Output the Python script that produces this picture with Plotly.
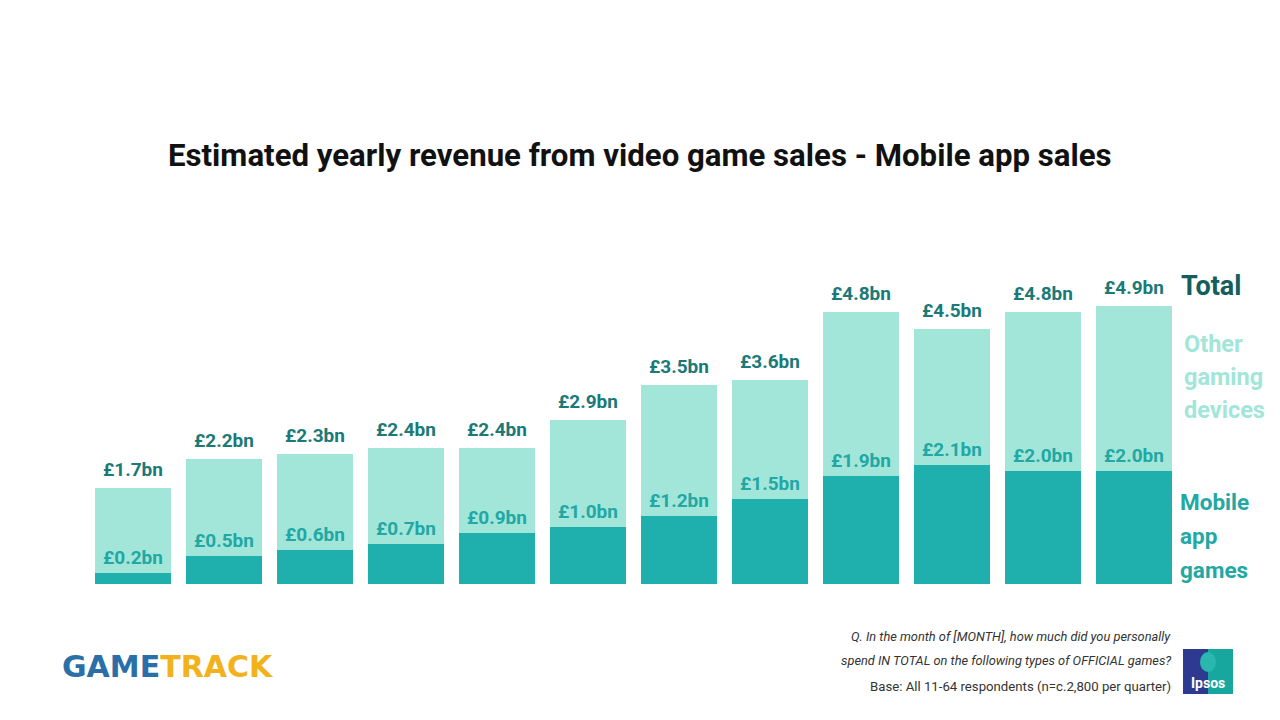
import plotly.graph_objects as go

periods = list(range(12))
mobile = [0.2, 0.5, 0.6, 0.7, 0.9, 1.0, 1.2, 1.5, 1.9, 2.1, 2.0, 2.0]
total = [1.7, 2.2, 2.3, 2.4, 2.4, 2.9, 3.5, 3.6, 4.8, 4.5, 4.8, 4.9]
other = [round(t - m, 2) for t, m in zip(total, mobile)]
mobile_labels = ["£%.1fbn" % v for v in mobile]
total_labels = ["£%.1fbn" % v for v in total]

W, H = 1280, 720
DARK = "#1FAFAD"
LIGHT = "#A1E6D9"
TOTAL_TXT = "#1A7A78"
MOB_TXT = "#22A8A4"
FONT = "Roboto"

def px(x):
    return x / W

def py(y):
    return (H - y) / H

fig = go.Figure()
fig.add_trace(go.Bar(x=periods, y=mobile, marker=dict(color=DARK, line=dict(width=0)),
                     name="Mobile app games", hoverinfo="y"))
fig.add_trace(go.Bar(x=periods, y=other, marker=dict(color=LIGHT, line=dict(width=0)),
                     name="Other gaming devices", hoverinfo="y"))

ann = []
for i in periods:
    ann.append(dict(x=i, y=total[i], xref="x", yref="y", text="<b>%s</b>" % total_labels[i],
                    showarrow=False, yanchor="bottom", yshift=5,
                    font=dict(family=FONT, size=19, color=TOTAL_TXT)))
    ann.append(dict(x=i, y=mobile[i], xref="x", yref="y", text="<b>%s</b>" % mobile_labels[i],
                    showarrow=False, yanchor="bottom", yshift=2,
                    font=dict(family=FONT, size=19, color=MOB_TXT)))

ann.append(dict(x=px(640), y=py(155), xref="paper", yref="paper",
                text="<b>Estimated yearly revenue from video game sales - Mobile app sales</b>",
                showarrow=False, xanchor="center", yanchor="middle",
                font=dict(family=FONT, size=31.2, color="#111111")))
ann.append(dict(x=px(1179), y=py(286), xref="paper", yref="paper", text="<b>Total</b>",
                showarrow=False, xanchor="left", yanchor="middle",
                font=dict(family=FONT, size=27, color="#145E5C")))
for j, w in enumerate(["Other", "gaming", "devices"]):
    ann.append(dict(x=px(1182), y=py(344 + 33 * j), xref="paper", yref="paper", text="<b>%s</b>" % w,
                    showarrow=False, xanchor="left", yanchor="middle",
                    font=dict(family=FONT, size=23.5, color=LIGHT)))
for j, w in enumerate(["Mobile", "app", "games"]):
    ann.append(dict(x=px(1178), y=py(502 + 34 * j), xref="paper", yref="paper", text="<b>%s</b>" % w,
                    showarrow=False, xanchor="left", yanchor="middle",
                    font=dict(family=FONT, size=22.5, color=MOB_TXT)))

ann.append(dict(x=px(1173), y=py(636), xref="paper", yref="paper",
                text="<i>Q. In the month of [MONTH], how much did you personally</i>",
                showarrow=False, xanchor="right", yanchor="middle",
                font=dict(family=FONT, size=12.8, color="#333333")))
ann.append(dict(x=px(1173), y=py(660), xref="paper", yref="paper",
                text="<i>spend IN TOTAL on the following types of OFFICIAL games?</i>",
                showarrow=False, xanchor="right", yanchor="middle",
                font=dict(family=FONT, size=12.8, color="#333333")))
ann.append(dict(x=px(1173), y=py(686), xref="paper", yref="paper",
                text="Base: All 11-64 respondents (n=c.2,800 per quarter)",
                showarrow=False, xanchor="right", yanchor="middle",
                font=dict(family=FONT, size=13.2, color="#333333")))

ann.append(dict(x=px(60), y=py(666), xref="paper", yref="paper",
                text="<b><span style='color:#2B6FA8'>GAME</span><span style='color:#F2B21C'>TRACK</span></b>",
                showarrow=False, xanchor="left", yanchor="middle",
                font=dict(family="DejaVu Sans", size=30)))
ann.append(dict(x=px(1208), y=py(683), xref="paper", yref="paper", text="<b>Ipsos</b>",
                showarrow=False, xanchor="center", yanchor="middle",
                font=dict(family=FONT, size=14, color="white")))

shapes = [
    dict(type="rect", xref="paper", yref="paper", x0=px(1183), x1=px(1208), y0=py(694), y1=py(649),
         fillcolor="#2E3A92", line=dict(width=0), layer="below"),
    dict(type="rect", xref="paper", yref="paper", x0=px(1208), x1=px(1233), y0=py(694), y1=py(649),
         fillcolor="#17A79F", line=dict(width=0), layer="below"),
    dict(type="circle", xref="paper", yref="paper", x0=px(1200), x1=px(1216), y0=py(672), y1=py(652),
         fillcolor="#2AB7AE", line=dict(width=0), layer="below"),
]

fig.update_layout(
    width=W, height=H, barmode="stack", bargap=0.165,
    paper_bgcolor="white", plot_bgcolor="white",
    margin=dict(l=0, r=0, t=0, b=0), showlegend=False,
    xaxis=dict(domain=[px(87.5), px(1179.5)], range=[-0.5, 11.5], visible=False),
    yaxis=dict(domain=[136 / H, 465 / H], range=[0, 5.8], visible=False),
    annotations=ann, shapes=shapes,
)

fig.write_html("out.html")
